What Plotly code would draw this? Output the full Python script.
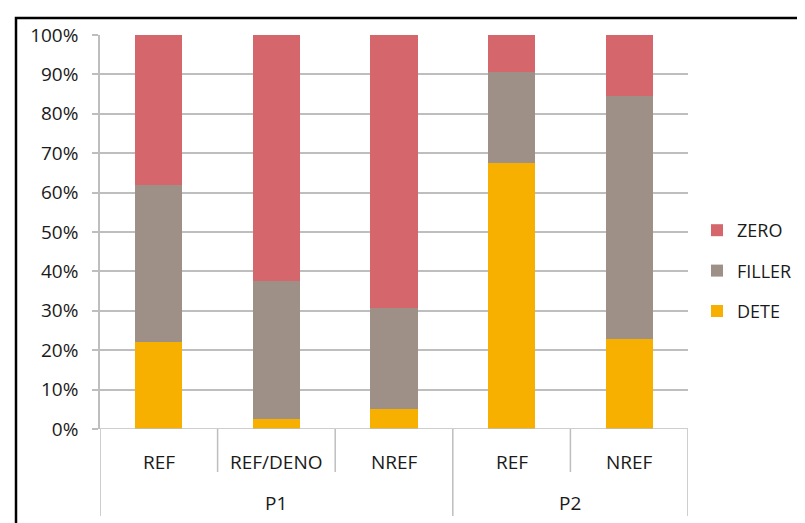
import plotly.graph_objects as go

groups = ["P1", "P1", "P1", "P2", "P2"]
categories = ["REF", "REF/DENO", "NREF", "REF", "NREF"]
dete = [22.0, 2.5, 5.0, 67.4, 22.9]
filler = [40.0, 35.0, 25.6, 23.2, 61.7]
zero = [38.0, 62.5, 69.4, 9.4, 15.4]
y_ticks = [0, 10, 20, 30, 40, 50, 60, 70, 80, 90, 100]
y_ticklabels = [f"{v}%" for v in y_ticks]

C_ZERO = "#D5666B"
C_FILLER = "#9E9087"
C_DETE = "#F7B000"
GRID = "#BEBEBE"
FONT = "Open Sans"
TXT = "#1a1a1a"

W, H = 805, 523
OFF = 8  # page body margin
L, T = 100 - OFF, 35 - OFF
plot_w, plot_h = 588, 394
R = W - L - plot_w
B = H - T - plot_h

xs = list(range(len(categories)))

fig = go.Figure()
series = [("DETE", dete, C_DETE, 3), ("FILLER", filler, C_FILLER, 2), ("ZERO", zero, C_ZERO, 1)]
for name, vals, col, rank in series:
    fig.add_trace(go.Bar(x=xs, y=vals, name=name, marker=dict(color=col, line=dict(width=0)),
                         width=0.4, legendgroup=name, legendrank=rank))

shapes = []
ann = []
for i, c in enumerate(categories):
    ann.append(dict(x=i, y=0, xref="x", yref="paper", text=c, showarrow=False,
                    yshift=-33, yanchor="middle", font=dict(family=FONT, size=19, color=TXT)))
for i in range(1, len(categories)):
    outer = groups[i] != groups[i - 1]
    shapes.append(dict(type="line", xref="x", yref="paper", x0=i - 0.5, x1=i - 0.5,
                       y0=0, y1=-(87 if outer else 43) / plot_h, line=dict(color=GRID, width=1.5)))
for xb in (-0.5, len(categories) - 0.5):
    shapes.append(dict(type="line", xref="x", yref="paper", x0=xb, x1=xb,
                       y0=0, y1=-87 / plot_h, line=dict(color=GRID, width=1.5)))
seen = []
for g in groups:
    if g not in seen:
        seen.append(g)
for g in seen:
    idx = [i for i, gg in enumerate(groups) if gg == g]
    ann.append(dict(x=sum(idx) / len(idx), y=0, xref="x", yref="paper", text=g, showarrow=False,
                    yshift=-74, yanchor="middle", font=dict(family=FONT, size=19, color=TXT)))

# outer frame (chart border, cropped at right/bottom)
shapes.append(dict(type="rect", xref="paper", yref="paper",
                   x0=(16 - OFF - L) / plot_w, x1=(W + 30 - L) / plot_w,
                   y0=-(H + 30 - T - plot_h) / plot_h, y1=1 + (T - (18 - OFF)) / plot_h,
                   line=dict(color="black", width=2.5)))

fig.update_layout(
    width=W, height=H,
    margin=dict(l=L, r=R, t=T, b=B, autoexpand=False),
    barmode="stack",
    plot_bgcolor="white", paper_bgcolor="white",
    font=dict(family=FONT, size=19, color=TXT),
    showlegend=True,
    legend=dict(x=(697 - OFF - L) / plot_w, y=(429 - 271) / plot_h, xanchor="left", yanchor="middle",
                traceorder="grouped", tracegroupgap=14,
                font=dict(family=FONT, size=18, color=TXT),
                bgcolor="rgba(0,0,0,0)"),
    xaxis=dict(range=[-0.5, len(categories) - 0.5], showticklabels=False, showgrid=False,
               zeroline=False, showline=False, ticks=""),
    yaxis=dict(range=[0, 100], tickvals=y_ticks, ticktext=y_ticklabels, showgrid=True,
               gridcolor=GRID, gridwidth=1.5, zeroline=False, showline=True, linecolor=GRID,
               linewidth=1.5, ticks="outside", ticklen=6, tickcolor=GRID, tickwidth=1.5,
               ticklabelstandoff=10, tickfont=dict(family=FONT, size=19, color=TXT)),
    shapes=shapes,
    annotations=ann,
)
fig.add_hline(y=0, line=dict(color=GRID, width=1.5))
fig.write_html("out.html")
